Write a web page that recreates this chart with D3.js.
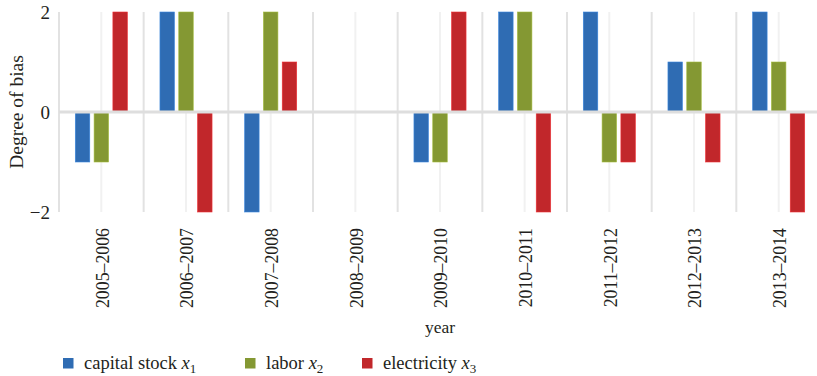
<!DOCTYPE html>
<html>
<head>
<meta charset="utf-8">
<script src="https://cdn.jsdelivr.net/npm/d3@7"></script>
<style>
  html, body { margin: 0; padding: 0; background: #fff; }
  svg { display: block; }
  text { font-family: "Liberation Serif", "DejaVu Serif", serif; fill: #231f20; }
</style>
</head>
<body>
<svg id="chart" width="817" height="376"></svg>
<script>
// Periods on the x axis
const years = ["2005–2006", "2006–2007", "2007–2008", "2008–2009", "2009–2010",
               "2010–2011", "2011–2012", "2012–2013", "2013–2014"];
// Degree of bias per input factor
const capitalStock = [-1, 2, -2, 0, -1, 2, 2, 1, 2];
const labor        = [-1, 2, 2, 0, -1, 2, -1, 1, 1];
const electricity  = [2, -2, 1, 0, 2, -2, -1, -1, -2];
// Series names and y ticks
const seriesNames = ["capital stock", "labor", "electricity"];
const seriesSubs = ["1", "2", "3"];
const yTicks = [-2, 0, 2];

const colors = ["#2f6cb3", "#849833", "#c1272b"];
const series = [capitalStock, labor, electricity];
const serif = '"Liberation Serif", serif';

const svg = d3.select("#chart");
const margin = { left: 59, top: 12 };
const plotW = 762, plotH = 200;

const g = svg.append("g").attr("transform", `translate(${margin.left},${margin.top})`);

const x = d3.scaleBand().domain(years).range([0, plotW]).padding(0);
const y = d3.scaleLinear().domain([-2, 2]).range([plotH, 0]);
const xInner = d3.scaleBand().domain(d3.range(series.length))
  .range([x.bandwidth() / 2 - 26.05, x.bandwidth() / 2 + 26.05]).paddingInner(0.229);

// Category boundary lines
g.append("g").selectAll("line")
  .data(d3.range(years.length + 1))
  .join("line")
  .attr("x1", i => i * x.step()).attr("x2", i => i * x.step())
  .attr("y1", 0).attr("y2", plotH)
  .attr("stroke", "#e2e2e2").attr("stroke-width", 2);

// Category centre lines
g.append("g").selectAll("line")
  .data(years)
  .join("line")
  .attr("x1", d => x(d) + x.bandwidth() / 2).attr("x2", d => x(d) + x.bandwidth() / 2)
  .attr("y1", 0).attr("y2", plotH)
  .attr("stroke", "#f1f1f1").attr("stroke-width", 2);

// Bars
series.forEach((vals, s) => {
  g.append("g").selectAll("rect")
    .data(vals.map((v, i) => ({ v, year: years[i] })).filter(d => d.v !== 0))
    .join("rect")
    .attr("x", d => x(d.year) + xInner(s))
    .attr("width", xInner.bandwidth())
    .attr("y", d => y(Math.max(0, d.v)))
    .attr("height", d => Math.abs(y(d.v) - y(0)))
    .attr("fill", colors[s])
    .attr("stroke", d3.color(colors[s]).brighter(0.6))
    .attr("stroke-width", 0.6);
});

// Zero line
g.append("line")
  .attr("x1", 0).attr("x2", plotW)
  .attr("y1", y(0)).attr("y2", y(0))
  .attr("stroke", "#dedede").attr("stroke-width", 3);

// Y axis tick labels
const yAxis = d3.axisLeft(y).tickValues(yTicks).tickSize(0).tickPadding(9)
  .tickFormat(d => d < 0 ? "−" + Math.abs(d) : String(d));
const yg = g.append("g").call(yAxis).attr("font-family", serif);
yg.select(".domain").remove();
yg.selectAll("text").style("font-size", "19px").style("font-family", serif).attr("fill", "#231f20");

// X axis labels, rotated
const xAxis = d3.axisBottom(x).tickSize(0).tickPadding(0);
const xg = g.append("g").attr("transform", `translate(0,${plotH})`).call(xAxis).attr("font-family", serif);
xg.select(".domain").remove();
xg.selectAll("text")
  .style("font-size", "17.8px").style("font-family", serif).attr("fill", "#231f20")
  .attr("transform", "rotate(-90)")
  .attr("text-anchor", "end")
  .attr("x", -16).attr("y", 1).attr("dy", "0.35em");

// Axis titles
svg.append("text")
  .attr("transform", `translate(16,${margin.top + y(0)}) rotate(-90)`)
  .attr("text-anchor", "middle").attr("dy", "0.35em")
  .style("font-size", "19.5px")
  .text("Degree of bias");

svg.append("text")
  .attr("x", 440).attr("y", 327)
  .attr("text-anchor", "middle").attr("dy", "0.35em")
  .style("font-size", "17.5px")
  .text("year");

// Legend
const legendX = [63, 245, 362];
const legend = svg.append("g");
seriesNames.forEach((name, i) => {
  const lg = legend.append("g").attr("transform", `translate(${legendX[i]},363)`);
  lg.append("rect").attr("x", 0).attr("y", -5).attr("width", 10.5).attr("height", 10.5).attr("fill", colors[i]);
  const t = lg.append("text").attr("x", 21).attr("y", 0).attr("dy", "0.33em").style("font-size", "18.5px");
  t.append("tspan").text(name + " ");
  t.append("tspan").style("font-style", "italic").text("x");
  t.append("tspan").attr("dy", "4").style("font-size", "13px").text(seriesSubs[i]);
});
</script>
</body>
</html>
